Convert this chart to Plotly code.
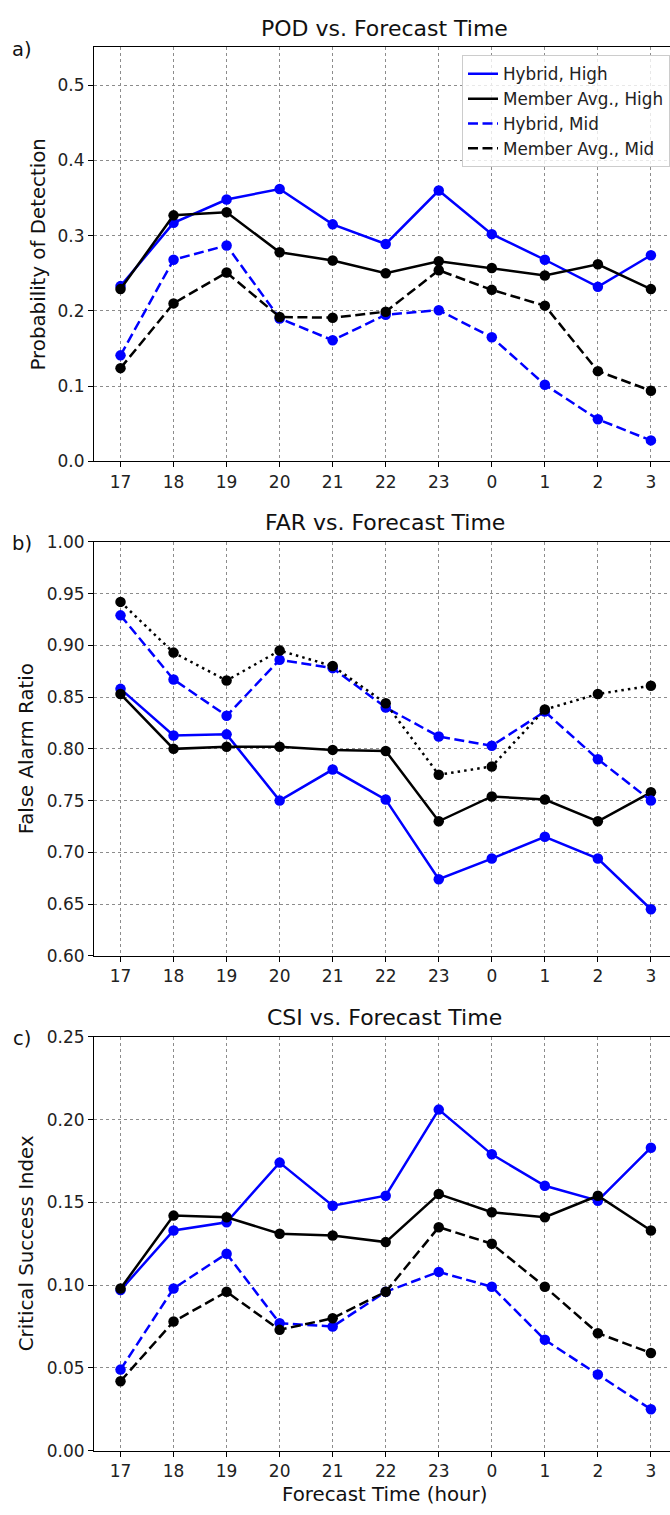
import plotly.graph_objects as go

# ---------------- data ----------------
hours = ["17", "18", "19", "20", "21", "22", "23", "0", "1", "2", "3"]

pod_hybrid_high = [0.233, 0.317, 0.348, 0.362, 0.315, 0.289, 0.360, 0.302, 0.268, 0.232, 0.274]
pod_member_high = [0.229, 0.327, 0.331, 0.278, 0.267, 0.250, 0.266, 0.257, 0.247, 0.262, 0.229]
pod_hybrid_mid = [0.141, 0.268, 0.287, 0.190, 0.161, 0.195, 0.201, 0.165, 0.102, 0.056, 0.028]
pod_member_mid = [0.124, 0.210, 0.251, 0.192, 0.191, 0.199, 0.254, 0.228, 0.207, 0.120, 0.094]

far_hybrid_high = [0.858, 0.813, 0.814, 0.750, 0.780, 0.751, 0.674, 0.694, 0.715, 0.694, 0.645]
far_member_high = [0.853, 0.800, 0.802, 0.802, 0.799, 0.798, 0.730, 0.754, 0.751, 0.730, 0.758]
far_hybrid_mid = [0.929, 0.867, 0.832, 0.886, 0.878, 0.840, 0.812, 0.803, 0.836, 0.790, 0.750]
far_member_mid = [0.942, 0.893, 0.866, 0.895, 0.880, 0.844, 0.775, 0.783, 0.838, 0.853, 0.861]

csi_hybrid_high = [0.097, 0.133, 0.138, 0.174, 0.148, 0.154, 0.206, 0.179, 0.160, 0.151, 0.183]
csi_member_high = [0.098, 0.142, 0.141, 0.131, 0.130, 0.126, 0.155, 0.144, 0.141, 0.154, 0.133]
csi_hybrid_mid = [0.049, 0.098, 0.119, 0.077, 0.075, 0.096, 0.108, 0.099, 0.067, 0.046, 0.025]
csi_member_mid = [0.042, 0.078, 0.096, 0.073, 0.080, 0.096, 0.135, 0.125, 0.099, 0.071, 0.059]

series_names = ["Hybrid, High", "Member Avg., High", "Hybrid, Mid", "Member Avg., Mid"]

panel_titles = ["POD vs. Forecast Time", "FAR vs. Forecast Time", "CSI vs. Forecast Time"]
panel_letters = ["a)", "b)", "c)"]
y_titles = ["Probability of Detection", "False Alarm Ratio", "Critical Success Index"]
x_title = "Forecast Time (hour)"

# ---------------- layout geometry ----------------
W, H = 670, 1515
FONT = "DejaVu Sans"
BLUE = "#0000ff"
BLACK = "#000000"
DASH = "10px,4.5px"
DOT = "2.5px,4.1px"

# pixel boxes (top, bottom) of each panel
boxes = [(38, 457.5), (539, 958.5), (1040.5, 1460)]
x_left_px = 94

def py(p):
    return 1 - p / H

fig = go.Figure()

panel_data = [
    [pod_hybrid_high, pod_member_high, pod_hybrid_mid, pod_member_mid],
    [far_hybrid_high, far_member_high, far_hybrid_mid, far_member_mid],
    [csi_hybrid_high, csi_member_high, csi_hybrid_mid, csi_member_mid],
]

styles_by_panel = [
    [(BLUE, "solid"), (BLACK, "solid"), (BLUE, DASH), (BLACK, DASH)],
    [(BLUE, "solid"), (BLACK, "solid"), (BLUE, DASH), (BLACK, DOT)],
    [(BLUE, "solid"), (BLACK, "solid"), (BLUE, DASH), (BLACK, DASH)],
]

for i, (vals_list, styles) in enumerate(zip(panel_data, styles_by_panel)):
    xa = "x" if i == 0 else f"x{i+1}"
    ya = "y" if i == 0 else f"y{i+1}"
    for name, vals, (col, dash) in zip(series_names, vals_list, styles):
        fig.add_trace(go.Scatter(
            x=hours, y=vals, mode="lines", name=name,
            line=dict(color=col, width=2.5, dash=dash),
            showlegend=(i == 0), xaxis=xa, yaxis=ya, hoverinfo="skip",
        ))
        fig.add_trace(go.Scatter(
            x=hours, y=vals, mode="markers", name=name,
            marker=dict(color=col, size=10.5),
            showlegend=False, xaxis=xa, yaxis=ya,
        ))

y_ranges = [[0, 0.55], [0.6, 1.0], [0, 0.25]]
y_dticks = [0.1, 0.05, 0.05]
y_formats = [".1f", ".2f", ".2f"]

axis_common = dict(
    showline=True, linecolor="black", linewidth=1,
    ticks="outside", ticklen=5, tickwidth=1, tickcolor="black",
    showgrid=True, gridcolor="#8c8c8c", gridwidth=0.8, griddash="dot",
    zeroline=False,
    tickfont=dict(family=FONT, size=17, color="#222222"),
)

layout = dict(
    width=W, height=H,
    margin=dict(l=0, r=0, t=0, b=0),
    paper_bgcolor="white", plot_bgcolor="white",
    showlegend=True,
    legend=dict(
        x=1.0, xanchor="right", y=py(46), yanchor="top",
        bgcolor="rgba(255,255,255,0.8)", bordercolor="#cccccc", borderwidth=1,
        font=dict(family=FONT, size=16.8, color="#222222"),
        tracegroupgap=0,
    ),
)

annotations = []
for i in range(3):
    top, bot = boxes[i]
    xk = "xaxis" if i == 0 else f"xaxis{i+1}"
    yk = "yaxis" if i == 0 else f"yaxis{i+1}"
    xa = "x" if i == 0 else f"x{i+1}"
    ya = "y" if i == 0 else f"y{i+1}"
    layout[xk] = dict(
        axis_common, type="category", domain=[x_left_px / W, 1.0],
        range=[-0.5, 10.36], anchor=ya, mirror=True,
        categoryorder="array", categoryarray=hours,
    )
    layout[yk] = dict(
        axis_common, domain=[py(bot), py(top)], range=y_ranges[i],
        dtick=y_dticks[i], tick0=0, tickformat=y_formats[i], anchor=xa,
        mirror=False,
    )
    # panel title
    annotations.append(dict(
        text=panel_titles[i], xref="paper", yref="paper",
        x=384.7 / W, y=py(top - 19.5), xanchor="center", yanchor="middle",
        showarrow=False, font=dict(family=FONT, size=22, color="#111111"),
    ))
    # panel letter
    annotations.append(dict(
        text=panel_letters[i], xref="paper", yref="paper",
        x=22 / W, y=py(top + 2), xanchor="center", yanchor="middle",
        showarrow=False, font=dict(family=FONT, size=19.5, color="#111111"),
    ))
    # y-axis title
    ytx = 38 if i == 0 else 26.5
    annotations.append(dict(
        text=y_titles[i], xref="paper", yref="paper",
        x=ytx / W, y=py((top + bot) / 2), xanchor="center", yanchor="middle",
        textangle=-90, showarrow=False,
        font=dict(family=FONT, size=19.8, color="#111111"),
    ))

annotations.append(dict(
    text=x_title, xref="paper", yref="paper",
    x=384.7 / W, y=py(1504), xanchor="center", yanchor="middle",
    showarrow=False, font=dict(family=FONT, size=19.8, color="#111111"),
))

layout["annotations"] = annotations
fig.update_layout(**layout)

fig.write_html("out.html")
